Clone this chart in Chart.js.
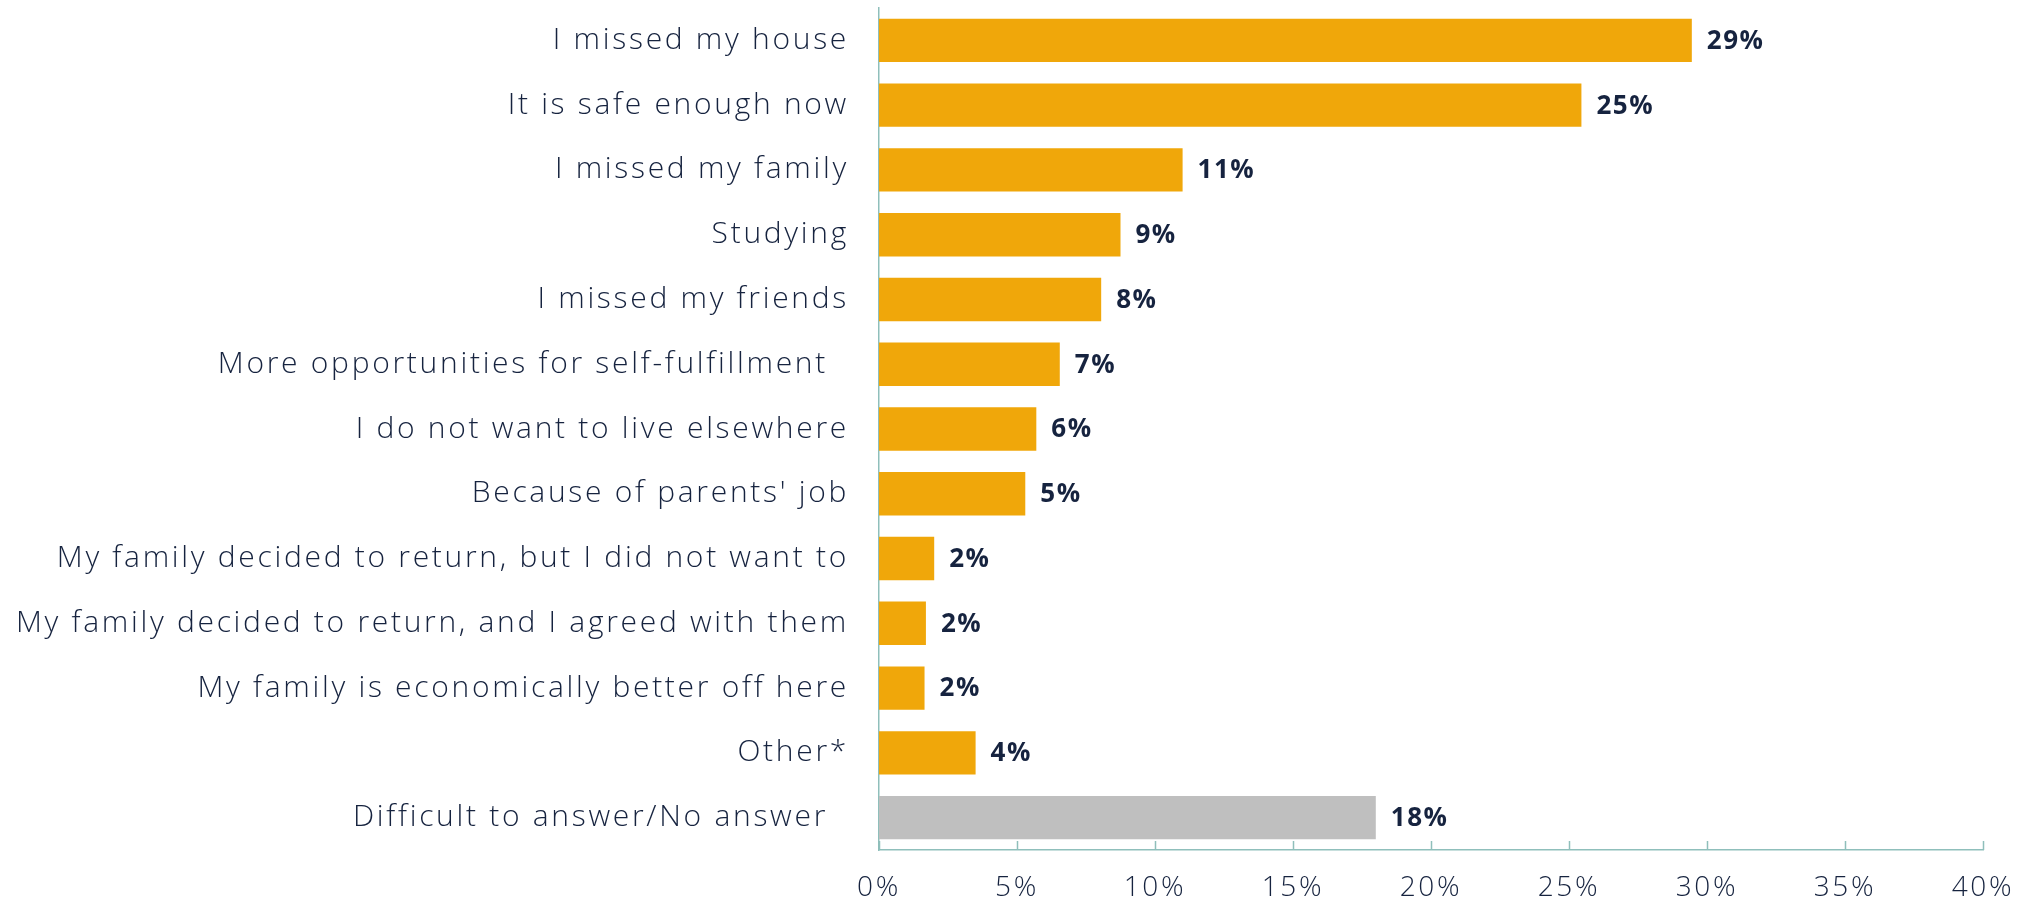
<!DOCTYPE html>
<html>
<head>
<meta charset="utf-8">
<script src="https://cdn.jsdelivr.net/npm/chart.js@4/dist/chart.umd.min.js"></script>
<style>
  html, body { margin: 0; padding: 0; background: #fff; }
  #wrap { width: 2018px; height: 900px; }
</style>
</head>
<body>
<div id="wrap"><canvas id="reasons"></canvas></div>
<script>
// reasons for returning, share of respondents (%)
const categories = [
  "I missed my house",
  "It is safe enough now",
  "I missed my family",
  "Studying",
  "I missed my friends",
  "More opportunities for self-fulfillment  ",
  "I do not want to live elsewhere",
  "Because of parents' job",
  "My family decided to return, but I did not want to",
  "My family decided to return, and I agreed with them",
  "My family is economically better off here",
  "Other*",
  "Difficult to answer/No answer  "
];
const values = [29.45, 25.45, 11.0, 8.75, 8.05, 6.55, 5.7, 5.3, 2.0, 1.7, 1.65, 3.5, 18.0];
const valueLabels = ["29%", "25%", "11%", "9%", "8%", "7%", "6%", "5%", "2%", "2%", "2%", "4%", "18%"];
const xTicks = [0, 5, 10, 15, 20, 25, 30, 35, 40];

const ORANGE = "#F0A70A";
const GREY = "#BFBFBF";
const NAVY = "#16233f";
const AXIS = "#8fbfbb";
const FONT = "'Open Sans', 'Noto Sans', sans-serif";

const colors = categories.map((c, i) => (i === categories.length - 1 ? GREY : ORANGE));

// wider letters, closer to the original typeface
const spacing = {
  id: "spacing",
  beforeDraw(chart) {
    chart.ctx.letterSpacing = "2.7px";
  }
};

// value labels at the end of each bar
const barLabels = {
  id: "barLabels",
  afterDatasetsDraw(chart) {
    const ctx = chart.ctx;
    const meta = chart.getDatasetMeta(0);
    ctx.save();
    ctx.letterSpacing = "1.5px";
    ctx.font = "700 26px " + FONT;
    ctx.fillStyle = NAVY;
    ctx.textAlign = "left";
    ctx.textBaseline = "middle";
    meta.data.forEach((bar, i) => {
      ctx.fillText(valueLabels[i], bar.x + 15, bar.y + 1);
    });
    ctx.restore();
  }
};

// small tick marks pointing up from the x axis line
const innerTicks = {
  id: "innerTicks",
  afterDraw(chart) {
    const ctx = chart.ctx;
    const xs = chart.scales.x;
    const bottom = chart.chartArea.bottom;
    ctx.save();
    ctx.strokeStyle = AXIS;
    ctx.lineWidth = 1.5;
    xTicks.forEach((t) => {
      const px = Math.round(xs.getPixelForValue(t)) + 0.5;
      ctx.beginPath();
      ctx.moveTo(px, bottom);
      ctx.lineTo(px, bottom - 9);
      ctx.stroke();
    });
    ctx.restore();
  }
};

new Chart(document.getElementById("reasons").getContext("2d"), {
  type: "bar",
  data: {
    labels: categories,
    datasets: [
      {
        data: values,
        backgroundColor: colors,
        borderWidth: 0,
        barPercentage: 0.67,
        categoryPercentage: 1
      }
    ]
  },
  options: {
    indexAxis: "y",
    responsive: true,
    maintainAspectRatio: false,
    animation: false,
    layout: { padding: { top: 8, right: 35, left: 0, bottom: 0 } },
    plugins: {
      legend: { display: false },
      tooltip: { enabled: false }
    },
    scales: {
      x: {
        min: 0,
        max: 40,
        afterFit(scale) {
          scale.height = 50;
          scale.paddingLeft = 0;
          scale.paddingRight = 0;
        },
        afterBuildTicks(scale) { scale.ticks = xTicks.map((v) => ({ value: v })); },
        grid: { display: false, drawTicks: false },
        border: { display: true, color: AXIS, width: 1.5 },
        ticks: {
          padding: 21,
          color: NAVY,
          font: { family: FONT, size: 28, weight: 300 },
          callback: (v) => v + "%",
          maxRotation: 0
        }
      },
      y: {
        afterFit(scale) {
          scale.width = 879;
          scale.paddingTop = 0;
          scale.paddingBottom = 0;
        },
        grid: { display: false, drawTicks: false },
        border: { display: true, color: AXIS, width: 1.5 },
        ticks: {
          padding: 30,
          color: NAVY,
          font: { family: FONT, size: 30, weight: 300 },
          autoSkip: false
        }
      }
    }
  },
  plugins: [spacing, barLabels, innerTicks]
});
</script>
</body>
</html>
